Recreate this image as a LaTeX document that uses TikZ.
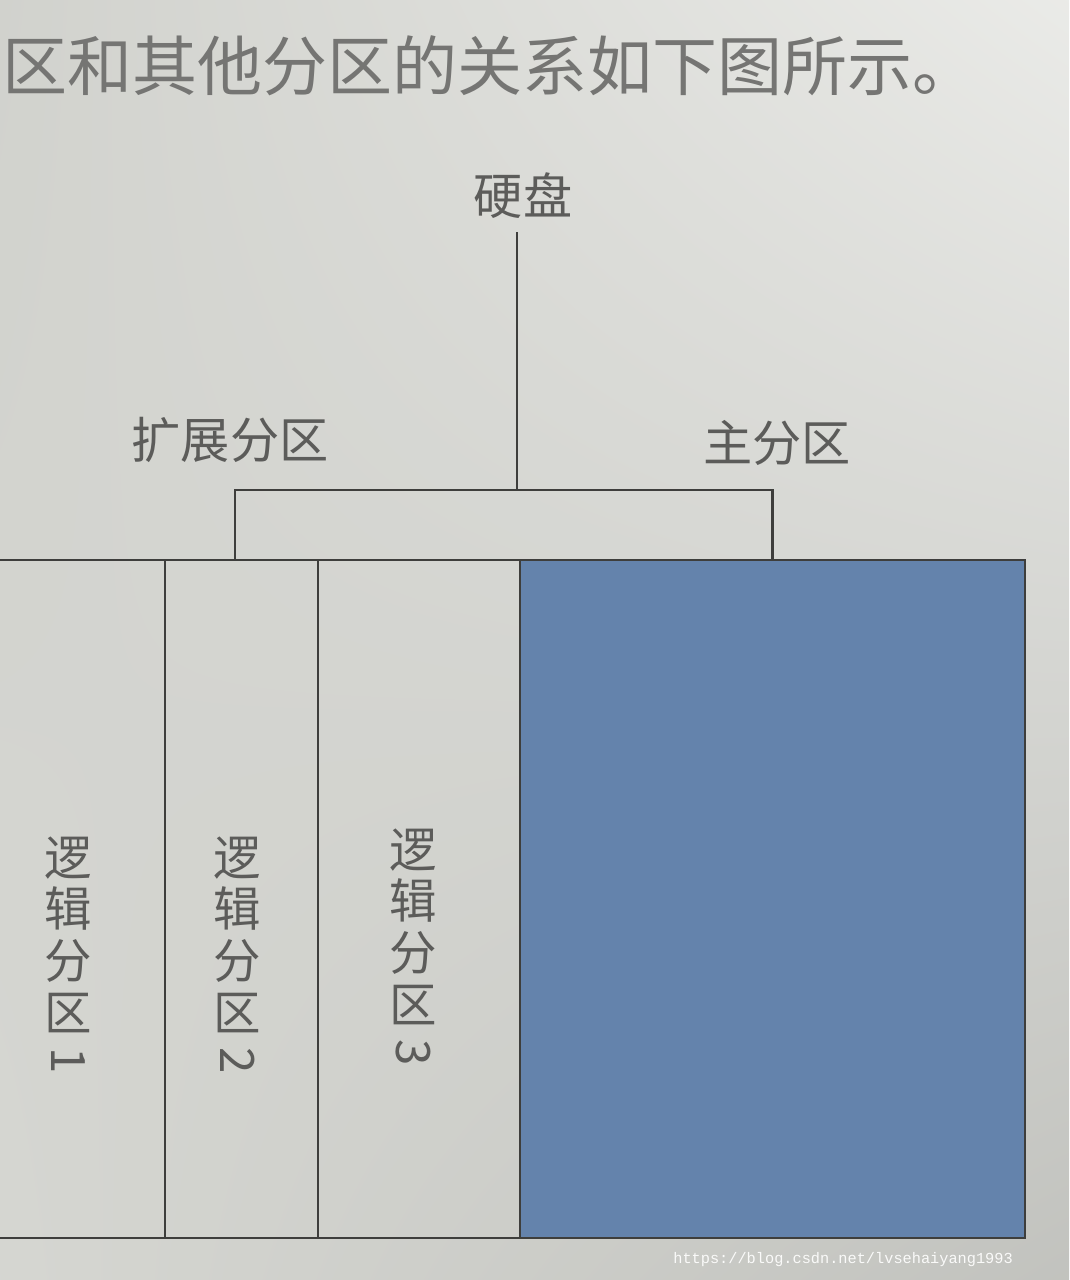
\documentclass[tikz,border=0pt]{standalone}
\usepackage{fontspec}
\usepackage{tikz}
\usetikzlibrary{positioning}
\usetikzlibrary{shadings}
\newfontfamily\cjk{Noto Sans CJK SC}
\newfontfamily\wmfont{Liberation Mono}
\definecolor{pagegray}{HTML}{DCDDD8}
\definecolor{linegray}{HTML}{3E3E3C}
\definecolor{textgray}{HTML}{5C5C5A}
\definecolor{primblue}{HTML}{6483AC}
\tikzset{
  part/.style = {draw=linegray, line width=1.6pt, inner sep=0pt, outer sep=0pt, anchor=north west, minimum height=135.6mm},
  link/.style = {draw=linegray, line width=1.6pt},
  lbl/.style = {text=textgray, font=\cjk\fontsize{28}{30}\selectfont, inner sep=0pt},
  vlbl/.style = {text=textgray, font=\cjk\fontsize{27}{29.5}\selectfont, align=center, inner sep=0pt},
}

\begin{document}
\begin{tikzpicture}[x=0.2mm, y=-0.2mm]
\useasboundingbox (0,0) rectangle (1069,1280);
% page background
\shade [upper left=pagegray!95!black, upper right=pagegray!60!white, lower left=pagegray!97!black, lower right=pagegray!88!black] (0,0) rectangle (1069,1280);

% text above the picture
\node [lbl, anchor=west, text=textgray!85!white, font=\cjk\fontsize{37}{40}\selectfont] (intro) at (2,66) {区和其他分区的关系如下图所示。};

\node [lbl] (disk) at (523,196) {硬盘};

% extended partition and its logical partitions
\node [part, minimum width=114mm] (ext) at (-50,560) {};
\node [part, minimum width=43mm] (log1) at (-50,560) {};
\node [part, minimum width=30.6mm] (log2) at (165,560) {};
\node [part, minimum width=40.4mm] (log3) at (318,560) {};
% primary partition
\node [part, minimum width=101mm, fill=primblue] (prim) at (520,560) {};

\node [vlbl] (name1) at ([xshift=2.2mm, yshift=-11.2mm]log1.center) {逻\\辑\\分\\区\\[-20pt]\rotatebox{-90}{1}};
\node [vlbl] (name2) at ([xshift=-0.8mm, yshift=-11.2mm]log2.center) {逻\\辑\\分\\区\\[-20pt]\rotatebox{-90}{2}};
\node [vlbl] (name3) at ([xshift=-1.2mm, yshift=-9.6mm]log3.center) {逻\\辑\\分\\区\\[-20pt]\rotatebox{-90}{3}};

% tree
\coordinate (split) at (517,490);
\path (disk.south) ++(0,13) coordinate (diskfoot);
\draw [link] (diskfoot -| split) -- (split);
\draw [link] (ext.north) |- (split) -| (prim.north);

\node [lbl] (extname) at (230,440) {扩展分区};
\node [lbl] (primname) at (777,443) {主分区};

% watermark
\node [text=white!85!pagegray, font=\wmfont\fontsize{8.7}{10}\selectfont, inner sep=0pt, anchor=west] (mark) at (673,1260) {https://blog.csdn.net/lvsehaiyang1993};
\end{tikzpicture}
\end{document}
